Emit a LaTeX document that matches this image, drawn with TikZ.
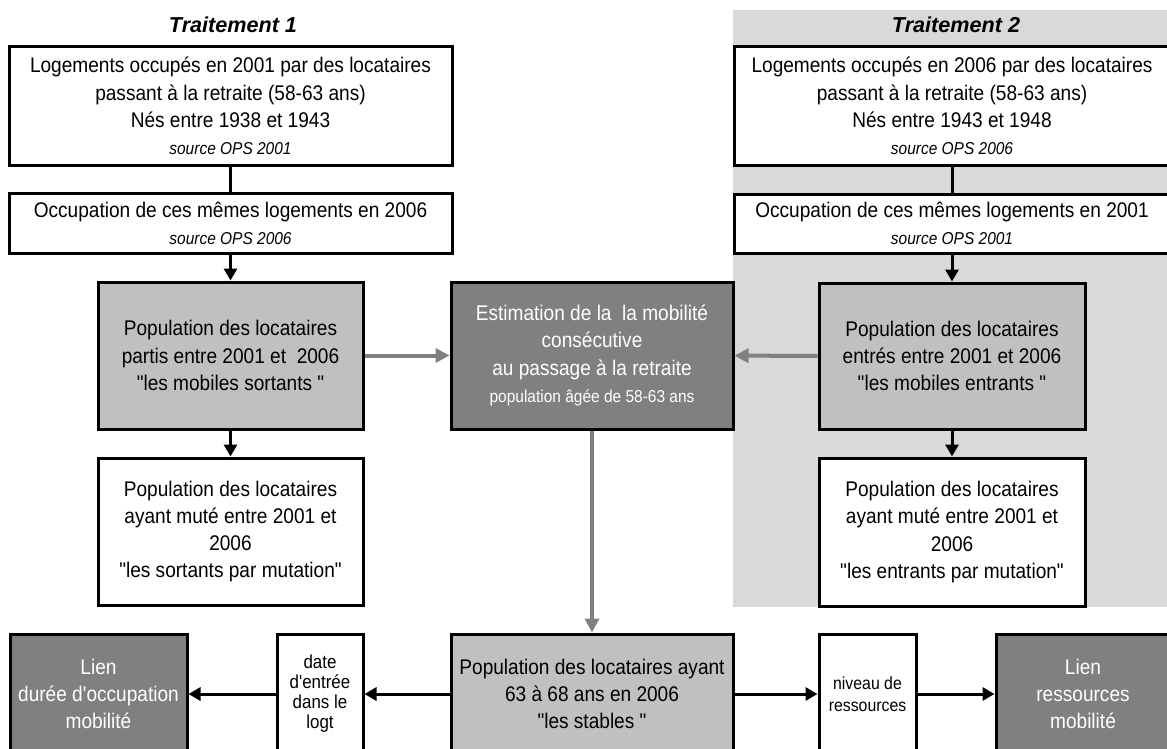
\documentclass[tikz,border=0pt]{standalone}
\usepackage{fontspec}
\setmainfont{Liberation Sans}[Ligatures=TeXOff,FakeStretch=0.9]
\newfontfamily\titlefont{Liberation Sans}
\usetikzlibrary{arrows.meta}
\definecolor{darkfill}{RGB}{128,128,128}
\definecolor{lightfill}{RGB}{192,192,192}
\definecolor{bgfill}{RGB}{217,217,217}
\definecolor{arrowgrey}{RGB}{128,128,128}
\newcommand{\srcfont}{\fontsize{8.6}{11}\selectfont\itshape}
\newcommand{\smallfont}{\fontsize{8.6}{11}\selectfont}
\tikzset{box/.style={draw,line width=1.5pt,inner sep=0pt,align=center,font=\fontsize{10.6}{13.6}\selectfont},
         whitebox/.style={box,fill=white},
         lightbox/.style={box,fill=lightfill},
         darkbox/.style={box,fill=darkfill,text=white},
         title/.style={font=\titlefont\fontsize{10.8}{13}\selectfont\bfseries\itshape},
         arr/.style={-{Triangle[length=6pt,width=6.5pt]},line width=1.5pt},
         greyarr/.style={-{Triangle[length=7pt,width=7pt]},line width=2pt,draw=arrowgrey},
        }

\begin{document}
\begin{tikzpicture}[x=0.5pt,y=-0.5pt]
        \useasboundingbox (0,0) rectangle (1167,749);
        \clip (0,0) rectangle (1167,749);
        \fill[bgfill] (733,10) rectangle (1180,607);

        \node[title](t1)at(233,25){Traitement 1};
        \node[title](t2)at(956,25){Traitement 2};

        \node[whitebox,minimum width=221.5pt,minimum height=59pt](log1)at(230.5,106){Logements occupés en 2001 par des locataires\\passant à la retraite (58-63 ans)\\Nés entre 1938 et 1943\\{\srcfont source OPS 2001}};
        \node[whitebox,minimum width=221.5pt,minimum height=30pt](occ1)at(230.5,223){Occupation de ces mêmes logements en 2006\\{\srcfont source OPS 2006}};
        \node[lightbox,minimum width=132.5pt,minimum height=73.5pt](partis)at(230.5,355.5){Population des locataires\\partis entre 2001 et\ \ 2006\\"les mobiles sortants "};
        \node[whitebox,minimum width=132.5pt,minimum height=73.5pt](mutS)at(230.5,531.5){Population des locataires\\ayant muté entre 2001 et\\2006\\"les sortants par mutation"};

        \node[darkbox,minimum width=141pt,minimum height=73.5pt](estim)at(592,355.5){Estimation de la\ \ la mobilité\\consécutive\\au passage à la retraite\\{\smallfont population âgée de 58-63 ans}};

        \node[whitebox,minimum width=218pt,minimum height=59pt](log2)at(952,106){Logements occupés en 2006 par des locataires\\passant à la retraite (58-63 ans)\\Nés entre 1943 et 1948\\{\srcfont source OPS 2006}};
        \node[whitebox,minimum width=218pt,minimum height=29.5pt](occ2)at(952,223.5){Occupation de ces mêmes logements en 2001\\{\srcfont source OPS 2001}};
        \node[lightbox,minimum width=133pt,minimum height=73pt](entres)at(952,356){Population des locataires\\entrés entre 2001 et 2006\\"les mobiles entrants "};
        \node[whitebox,minimum width=133pt,minimum height=74pt](mutE)at(952,532){Population des locataires\\ayant muté entre 2001 et\\2006\\"les entrants par mutation"};

        \node[lightbox,minimum width=141pt,minimum height=60pt](stables)at(592,694){Population des locataires ayant\\63 à 68 ans en 2006\\"les stables "};
        \node[whitebox,minimum width=43pt,minimum height=60pt,font=\fontsize{9.4}{10}\selectfont](date)at(320,694){date\\d'entrée\\dans le\\logt};
        \node[darkbox,minimum width=88.5pt,minimum height=60pt](lienD)at(98.5,694){Lien\\durée d'occupation\\mobilité};
        \node[whitebox,minimum width=48.5pt,minimum height=60pt,font=\fontsize{8.8}{11}\selectfont](niveau)at(867.5,694){niveau de\\ressources};
        \node[darkbox,minimum width=87pt,minimum height=60pt](lienR)at(1083,694){Lien\\ressources\\mobilité};

        \draw[line width=1.5pt](log1)--(occ1);
        \draw[arr](occ1)--(partis);
        \draw[arr](partis)--(mutS);
        \draw[line width=1.5pt](log2)--(occ2);
        \draw[arr](occ2)--(entres);
        \draw[arr](entres)--(mutE);

        \draw[greyarr](partis)--(estim);
        \draw[greyarr](entres)--(estim);
        \draw[greyarr](estim)--(stables);

        \draw[arr](stables)--(date);
        \draw[arr](date)--(lienD);
        \draw[arr](stables)--(niveau);
        \draw[arr](niveau)--(lienR);
    \end{tikzpicture}
\end{document}
